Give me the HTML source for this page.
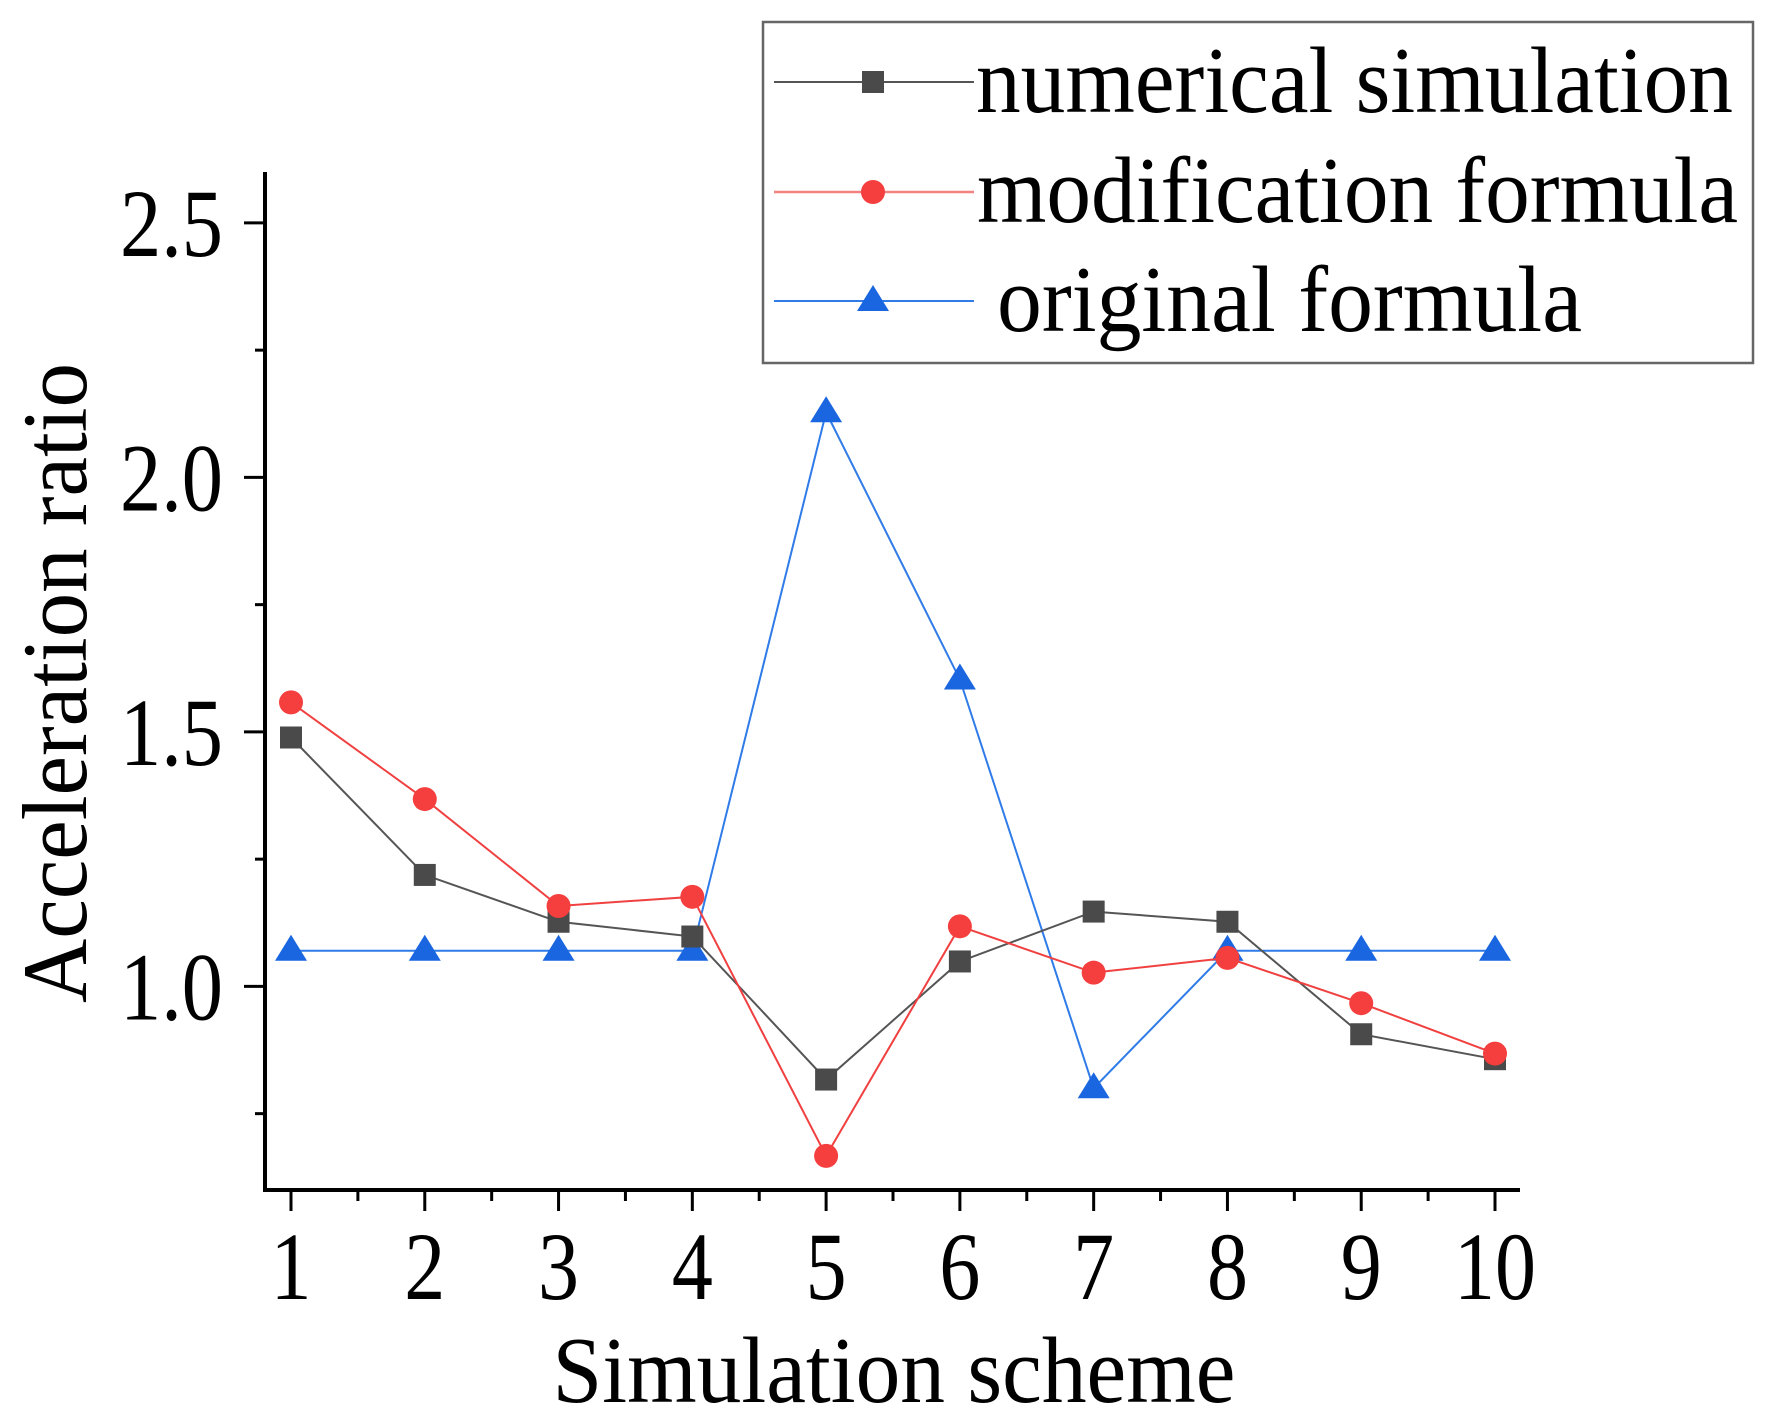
<!DOCTYPE html>
<html><head><meta charset="utf-8"><style>
html,body{margin:0;padding:0;background:#fff;}
svg{display:block;}
text{font-family:"Liberation Serif","Times New Roman",serif;fill:#000;}
</style></head><body>
<svg id="chart" width="1776" height="1424" viewBox="0 0 1776 1424" xmlns="http://www.w3.org/2000/svg">
<g id="grid"></g>
<g id="series"></g>
<text x="0" y="0" font-size="92" text-anchor="middle" textLength="640" lengthAdjust="spacingAndGlyphs" transform="translate(86,683) rotate(-90)">Acceleration ratio</text>
<text x="894" y="1402" font-size="94" text-anchor="middle" textLength="683" lengthAdjust="spacingAndGlyphs">Simulation scheme</text>
<g>
<rect x="763" y="22" width="990" height="341" fill="#fff" stroke="#666" stroke-width="2.5"/>
<g>
<line x1="774" y1="82" x2="974" y2="82" stroke="#555" stroke-width="2"/>
<rect x="862" y="71" width="22" height="22" fill="#4a4a4a"/>
<text x="976" y="112" font-size="94" textLength="757" lengthAdjust="spacingAndGlyphs">numerical simulation</text></g>
<g>
<line x1="774" y1="192" x2="974" y2="192" stroke="#f58080" stroke-width="2.5"/>
<circle cx="873" cy="192" r="12" fill="#f53e3e"/>
<text x="977" y="222" font-size="94" textLength="761" lengthAdjust="spacingAndGlyphs">modification formula</text></g>
<g>
<line x1="774" y1="301" x2="974" y2="301" stroke="#2f7be8" stroke-width="2"/>
<polygon points="873,285 857,311 889,311" fill="#1a66e0"/>
<text x="997" y="331" font-size="94" textLength="585" lengthAdjust="spacingAndGlyphs">original formula</text></g>
</g>
</svg>
<script>
const categories = [1,2,3,4,5,6,7,8,9,10];
const numericalValues = [1.489,1.219,1.127,1.098,0.817,1.049,1.147,1.127,0.906,0.857];
const modificationValues = [1.558,1.368,1.158,1.176,0.667,1.118,1.027,1.056,0.967,0.868];
const originalValues = [1.07,1.07,1.07,1.07,2.128,1.603,0.80,1.07,1.07,1.07];
const yTickLabels = ["1.0","1.5","2.0","2.5"];
const yTickValues = [1.0,1.5,2.0,2.5];

const X0=265, X1=1520, Y0=1190, Y1=172;
const xmin=0.8, xmax=10.2, ymin=0.6, ymax=2.6;
function xs(v){return 291+(v-1)*(1495-291)/9;}
function ys(v){return Y0-(v-ymin)/(ymax-ymin)*(Y0-Y1);}
const NS="http://www.w3.org/2000/svg";
function mk(tag,attrs,parent){const e=document.createElementNS(NS,tag);for(const k in attrs)e.setAttribute(k,attrs[k]);parent.appendChild(e);return e;}
const grid=document.getElementById('grid');
const ser=document.getElementById('series');

let a=mk('line',{x1:X0,y1:Y1,x2:X0,y2:Y0+2,stroke:'#000','stroke-width':4},grid);


a=mk('line',{x1:X0-2,y1:Y0,x2:X1,y2:Y0,stroke:'#000','stroke-width':4},grid);



for(let v=0.75; v<=2.6; v+=0.25){
  const major=Math.abs(v*2-Math.round(v*2))<1e-6;
  const t=mk('line',{x1:X0-(major?21:10),y1:ys(v),x2:X0,y2:ys(v),stroke:'#000','stroke-width':3},grid);
  
  
}
yTickValues.forEach((v,i)=>{
  const t=mk('text',{x:223,y:ys(v)+33,'font-size':96,'text-anchor':'end',textLength:103,lengthAdjust:'spacingAndGlyphs'},grid);
  t.textContent=yTickLabels[i];
  
  
});
categories.forEach((c,i)=>{
  const t=mk('line',{x1:xs(c),y1:Y0,x2:xs(c),y2:Y0+21,stroke:'#000','stroke-width':3},grid);
  
  
  if(i<categories.length-1){
    const m=mk('line',{x1:xs(c+0.5),y1:Y0,x2:xs(c+0.5),y2:Y0+11,stroke:'#000','stroke-width':3},grid);
    
    
  }
  const s=String(c);
  const l=mk('text',{x:xs(c),y:1299,'font-size':96,'text-anchor':'middle',textLength:s.length*41,lengthAdjust:'spacingAndGlyphs'},grid);
  l.textContent=s;
  
  
});

function drawSeries(vals,color,lineColor,shape,name){
  const pts=categories.map((c,i)=>xs(c)+','+ys(vals[i])).join(' ');
  const pl=mk('polyline',{points:pts,fill:'none',stroke:lineColor,'stroke-width':2},ser);
  
  
  categories.forEach((c,i)=>{
    const x=xs(c),y=ys(vals[i]);let m;
    if(shape==='square') m=mk('rect',{x:x-11,y:y-11,width:22,height:22,fill:color},ser);
    else if(shape==='circle') m=mk('circle',{cx:x,cy:y,r:12,fill:color},ser);
    else m=mk('polygon',{points:`${x},${y-16} ${x-16},${y+10} ${x+16},${y+10}`,fill:color},ser);
    
    
  });
}
drawSeries(originalValues,'#1a66e0','#2f7be8','triangle','original-formula');
drawSeries(numericalValues,'#4a4a4a','#555','square','numerical-simulation');
drawSeries(modificationValues,'#f53e3e','#f04040','circle','modification-formula');
</script>
</body></html>
